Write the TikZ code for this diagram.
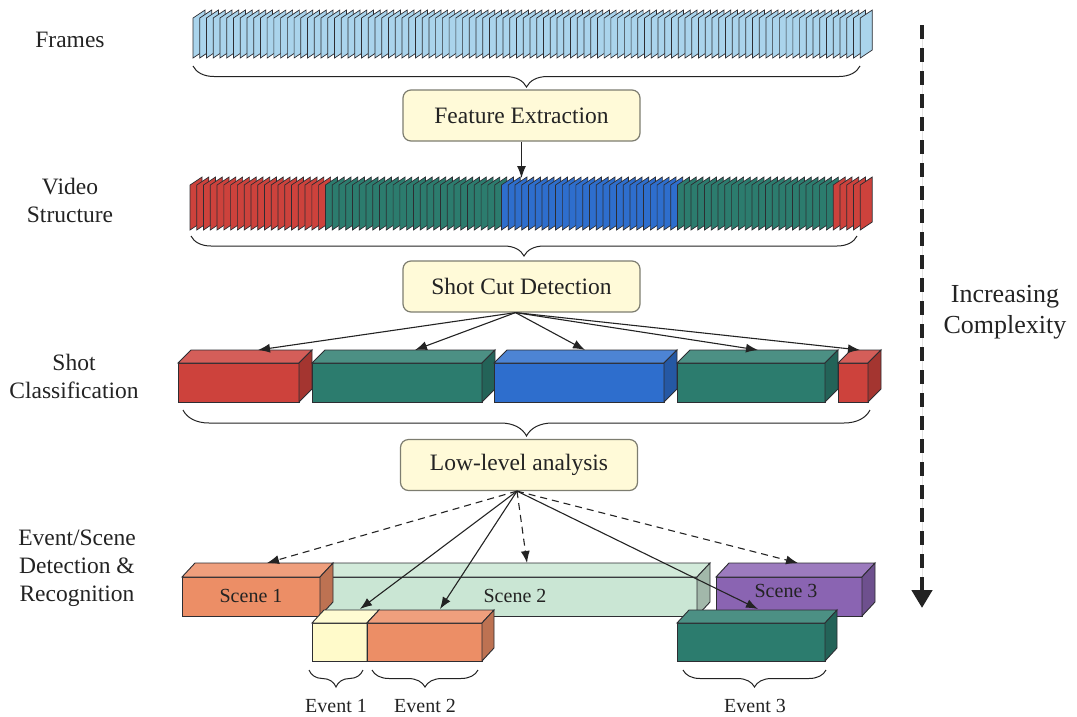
\documentclass[tikz,border=0pt]{standalone}
\usepackage{fontspec}
\setmainfont{Liberation Serif}
\usetikzlibrary{arrows.meta,decorations.pathreplacing}

\definecolor{framecol}{RGB}{170,212,236}
\definecolor{shotred}{RGB}{205,66,60}
\definecolor{shotteal}{RGB}{44,124,110}
\definecolor{shotblue}{RGB}{46,110,205}
\definecolor{sceneorange}{RGB}{236,142,102}
\definecolor{scenegreen}{RGB}{202,230,212}
\definecolor{scenepurple}{RGB}{138,100,178}
\definecolor{eventyellow}{RGB}{255,250,202}
\definecolor{boxfill}{RGB}{255,250,216}
\definecolor{boxline}{RGB}{125,125,112}
\definecolor{ink}{RGB}{35,35,35}
\definecolor{edge}{RGB}{45,45,50}

\tikzset{
  stagebox/.style={draw=boxline, fill=boxfill, line width=1.2pt, rounded corners=8pt,
    minimum width=237pt, minimum height=51pt, text=ink,
    font=\fontsize{23.5}{28}\selectfont},
  sidelabel/.style={align=center, text=ink, font=\fontsize{23.5}{28}\selectfont},
  smalllabel/.style={text=ink, font=\fontsize{20}{24}\selectfont},
  cardedge/.style={draw=edge, line width=0.7pt},
  cubeedge/.style={draw=edge, line width=0.9pt},
  span/.style={draw=ink, line width=1pt, decorate,
    decoration={brace, mirror, amplitude=#1}},
  link/.style={draw=ink, line width=1.1pt, -{Latex[length=12pt,width=9pt]}},
  dashlink/.style={link, dash pattern=on 7pt off 5pt},
}

% box drawn as front face, top face and right side face
% #1 front-left x, #2 front-right x, #3 front-top y, #4 bottom y, #5 depth dx, #6 depth dy, #7 colour
\newcommand{\cuboid}[7]{%
  \filldraw[cubeedge, fill=#7] (#1,#3) rectangle (#2,#4);
  \filldraw[cubeedge, fill=#7!85!white] (#1,#3) -- ++(#5,-#6) -- ++(#2-#1,0) -- (#2,#3) -- cycle;
  \filldraw[cubeedge, fill=#7!80!black] (#2,#3) -- ++(#5,-#6) -- ++(0,#4-#3) -- (#2,#4) -- cycle;
}

\begin{document}
\begin{tikzpicture}[x=1pt,y=-1pt]
\useasboundingbox (0,0) rectangle (1077,716);

% ---------- left-hand level labels ----------
\node[sidelabel] (lframes) at (70,40) {Frames};
\node[sidelabel] (lvideo) at (70,200) {Video\\Structure};
\node[sidelabel] (lshot) at (74,376) {Shot\\Classification};
\node[sidelabel] (levent) at (77,568) {Event/Scene\\Detection \&\\Recognition};

% ---------- raw frames ----------
\foreach \i in {0,...,99} {
  \pgfmathsetmacro{\xa}{193+\i*6.74}
  \filldraw[cardedge, fill=framecol] (\xa,18) -- ++(12,-8) -- ++(0,40) -- ++(-12,8) -- cycle;
}
\draw[span=21pt] (193,66) -- (860,66);

\node[stagebox] (feat) at (521.5,115.5) {Feature Extraction};

% ---------- frames grouped into shots ----------
\foreach \a/\b/\c in {0/19/shotred, 20/45/shotteal, 46/71/shotblue, 72/94/shotteal, 95/99/shotred} {
  \foreach \i in {\a,...,\b} {
    \pgfmathsetmacro{\xa}{190+\i*6.77}
    \filldraw[cardedge, fill=\c] (\xa,185) -- ++(12,-8) -- ++(0,45) -- ++(-12,8) -- cycle;
  }
}
\coordinate (vstop) at (521.5,178);
\draw[link] (feat.south) -- (vstop);
\draw[span=20pt] (191,236) -- (857,236);

\node[stagebox] (cut) at (521.5,286.5) {Shot Cut Detection};

% ---------- classified shots ----------
\cuboid{178}{299}{363}{402}{13}{13}{shotred}
\cuboid{312}{482}{363}{402}{13}{13}{shotteal}
\cuboid{494}{664}{363}{402}{13}{13}{shotblue}
\cuboid{677}{825}{363}{402}{13}{13}{shotteal}
\cuboid{838}{868}{363}{402}{13}{13}{shotred}

\coordinate (sh1) at (258,350);
\coordinate (sh2) at (415,350);
\coordinate (sh3) at (585,350);
\coordinate (sh4) at (758,350);
\coordinate (sh5) at (860,350);
\foreach \t in {sh1,sh2,sh3,sh4,sh5}
  \draw[link] ([xshift=-6pt]cut.south) -- (\t);

\draw[span=26pt] (183,410) -- (870,410);

\node[stagebox] (low) at (519,465) {Low-level analysis};

% ---------- scenes ----------
\cuboid{320}{697}{577}{616}{13}{14}{scenegreen}
\cuboid{182}{320}{577}{616}{13}{14}{sceneorange}
\cuboid{716}{862}{577}{616}{13}{14}{scenepurple}
\node[smalllabel] (sc1) at (251,596) {Scene 1};
\node[smalllabel] (sc2) at (515,596) {Scene 2};
\node[smalllabel] (sc3) at (786,591) {Scene 3};

% ---------- events ----------
\cuboid{312}{367}{623}{661}{12}{13}{eventyellow}
\cuboid{367}{482}{623}{661}{12}{13}{sceneorange}
\cuboid{677}{825}{623}{661}{12}{13}{shotteal}

\draw[span=17pt] (309,670) -- (363,670);
\draw[span=17pt] (372,670) -- (478,670);
\draw[span=17pt] (683,670) -- (826,670);
\node[smalllabel] (ev1) at (336,706) {Event 1};
\node[smalllabel] (ev2) at (425,706) {Event 2};
\node[smalllabel] (ev3) at (755,706) {Event 3};

% ---------- links from the low-level analysis ----------
\coordinate (s1t) at (267,563);
\coordinate (s2t) at (527,563);
\coordinate (s3t) at (798,563);
\coordinate (e1t) at (360,609);
\coordinate (e2t) at (440,609);
\coordinate (e3t) at (758,609);
\foreach \t in {s1t,s2t,s3t}
  \draw[dashlink] ([xshift=-2pt]low.south) -- (\t);
\foreach \t in {e1t,e2t,e3t}
  \draw[link] ([xshift=-2pt]low.south) -- (\t);

% ---------- complexity axis ----------
\coordinate (ctop) at (922,25);
\coordinate (cbot) at (922,608);
\draw[draw=ink, fill=ink, line width=4.5pt, dash pattern=on 14pt off 9pt,
  -{Triangle[length=18pt,width=20pt]}] (ctop) -- (cbot);
\node[align=center, text=ink, font=\fontsize{26}{31}\selectfont] (cplx) at (1005,312)
  {Increasing\\Complexity};
\end{tikzpicture}
\end{document}
